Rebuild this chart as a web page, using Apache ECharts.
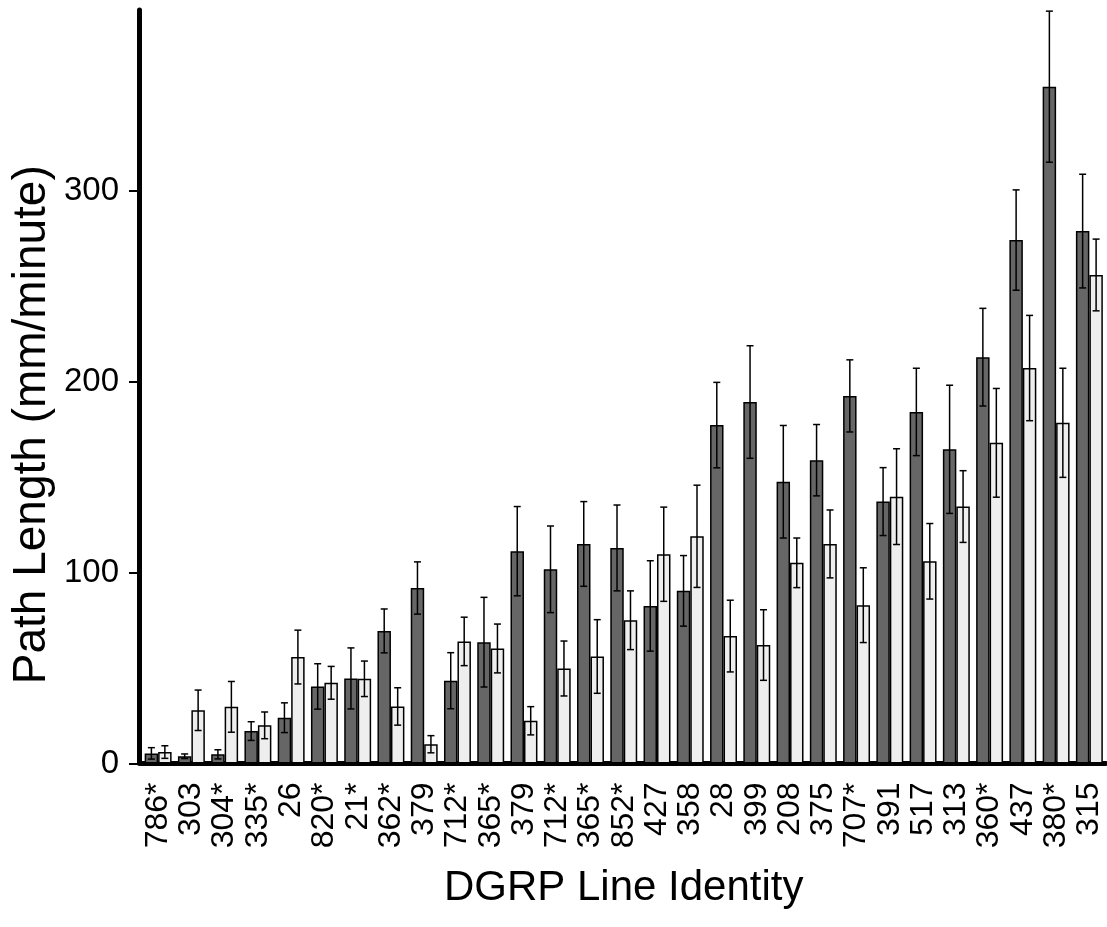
<!DOCTYPE html>
<html><head><meta charset="utf-8">
<script src="https://cdn.jsdelivr.net/npm/echarts@6/dist/echarts.min.js"></script>
<style>html,body{margin:0;padding:0;background:#fff}#c{width:1107px;height:927px}</style>
</head><body><div id="c"></div>
<script>
const categories = ['786*','303','304*','335*','26','820*','21*','362*','379','712*','365*','379 ','712* ','365* ','852*','427','358','28','399','208','375','707*','391','517','313','360*','437','380*','315'];
const darkValues  = [5.3, 3.8, 4.8, 17.0, 24.0, 40.4, 44.6, 69.5, 92.0, 43.4, 63.6, 111.3, 101.8, 115.1, 113.0, 82.6, 90.5, 177.4, 189.5, 147.7, 159.0, 192.7, 137.3, 184.3, 164.7, 213.0, 274.4, 354.8, 279.1];
const darkErrors  = [3.0, 1.2, 2.4, 4.9, 7.8, 11.9, 16.0, 11.5, 13.7, 14.7, 23.5, 23.4, 22.7, 22.2, 22.5, 23.7, 18.5, 22.4, 29.5, 29.5, 18.7, 18.9, 17.8, 22.9, 33.6, 25.6, 26.3, 39.6, 29.8];
const lightValues = [6.0, 27.9, 29.7, 20.0, 55.8, 42.3, 44.4, 29.9, 10.1, 64.0, 60.3, 22.4, 49.8, 56.1, 75.1, 109.7, 119.1, 66.8, 62.1, 105.2, 115.1, 83.0, 139.9, 106.0, 134.7, 168.1, 207.3, 178.6, 256.1];
const lightErrors = [3.3, 10.6, 13.3, 7.0, 14.1, 8.6, 9.3, 9.8, 4.5, 12.7, 12.8, 7.4, 14.4, 19.3, 15.4, 24.7, 26.8, 18.8, 18.5, 13.0, 17.8, 19.6, 25.1, 19.8, 18.8, 28.5, 27.6, 28.6, 18.8];
const yTicks = [0, 100, 200, 300];

const FONT = 'Liberation Sans, Arial, Helvetica, sans-serif';
const CAT_GAP = 0.19;
const chart = echarts.init(document.getElementById('c'));

function errorSeries(vals, errs, side) {
  return {
    type: 'custom',
    data: vals.map((v, i) => [i, v, errs[i]]),
    encode: { x: 0, y: 1 },
    z: 10,
    silent: true,
    renderItem(params, api) {
      const i = api.value(0), v = api.value(1), e = api.value(2);
      const band = api.size([1, 0])[0];
      const bw = band * (1 - CAT_GAP) / 2;
      const cx = api.coord([i, v])[0] + side * bw / 2;
      const top = api.coord([i, v + e])[1];
      const bot = api.coord([i, Math.max(0, v - e)])[1];
      const cap = 3.5;
      const st = { stroke: '#000', lineWidth: 1.5 };
      return { type: 'group', children: [
        { type: 'line', shape: { x1: cx, y1: top, x2: cx, y2: bot }, style: st },
        { type: 'line', shape: { x1: cx - cap, y1: top, x2: cx + cap, y2: top }, style: st },
        { type: 'line', shape: { x1: cx - cap, y1: bot, x2: cx + cap, y2: bot }, style: st }
      ]};
    }
  };
}

chart.setOption({
  animation: false,
  backgroundColor: '#fff',
  grid: { left: 141.5, right: 1, top: 10, bottom: 163.5 },
  xAxis: {
    type: 'category',
    data: categories,
    axisLine: { lineStyle: { color: '#000', width: 5 } },
    axisTick: { alignWithLabel: true, length: 8, lineStyle: { color: '#000', width: 2 } },
    axisLabel: { rotate: 90, interval: 0, color: '#000', fontSize: 32, fontFamily: FONT, margin: 19,
      formatter: v => v.trim() },
    name: 'DGRP Line Identity',
    nameLocation: 'middle',
    nameGap: 104,
    nameMoveOverlap: false,
    nameTextStyle: { fontSize: 42, color: '#000', fontFamily: FONT }
  },
  yAxis: {
    type: 'value',
    min: 0, max: 395, interval: 100,
    offset: 2.5,
    splitLine: { show: false },
    axisLine: { show: true, lineStyle: { color: '#000', width: 5 } },
    axisTick: { show: true, length: 10, lineStyle: { color: '#000', width: 2 }, customValues: yTicks },
    axisLabel: { color: '#000', fontSize: 33, fontFamily: FONT, margin: 20, customValues: yTicks },
    name: 'Path Length (mm/minute)',
    nameLocation: 'middle',
    nameGap: 84,
    nameMoveOverlap: false,
    nameTextStyle: { fontSize: 46, color: '#000', fontFamily: FONT, padding: [0, 76, 0, 0] }
  },
  series: [
    { type: 'bar', data: darkValues, barGap: '0%', barCategoryGap: (CAT_GAP * 100) + '%',
      itemStyle: { color: '#666666', borderColor: '#000', borderWidth: 1.5 } },
    { type: 'bar', data: lightValues, barGap: '0%', barCategoryGap: (CAT_GAP * 100) + '%',
      itemStyle: { color: '#eeeeee', borderColor: '#000', borderWidth: 1.5 } },
    errorSeries(darkValues, darkErrors, -1),
    errorSeries(lightValues, lightErrors, 1)
  ]
});
</script>
</body></html>
